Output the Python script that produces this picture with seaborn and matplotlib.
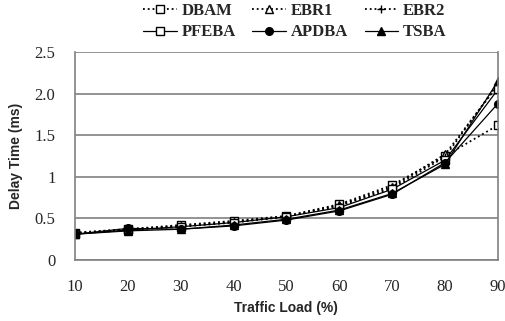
import matplotlib
matplotlib.use("Agg")
import matplotlib.pyplot as plt
import seaborn as sns

# traffic load (%) and delay time (ms) per scheme
load = [10, 20, 30, 40, 50, 60, 70, 80, 90]
dbam = [0.33, 0.37, 0.42, 0.47, 0.53, 0.67, 0.90, 1.25, 1.62]
ebr1 = [0.32, 0.37, 0.41, 0.46, 0.52, 0.66, 0.88, 1.27, 2.10]
ebr2 = [0.32, 0.36, 0.40, 0.45, 0.52, 0.65, 0.86, 1.24, 2.12]
pfeba = [0.31, 0.36, 0.40, 0.45, 0.52, 0.63, 0.85, 1.20, 2.05]
apdba = [0.31, 0.38, 0.37, 0.41, 0.48, 0.59, 0.79, 1.17, 1.88]
tsba = [0.31, 0.35, 0.37, 0.42, 0.49, 0.60, 0.80, 1.15, 2.15]

y_ticks = [0, 0.5, 1, 1.5, 2.0, 2.5]
y_labels = ["0", "0.5", "1", "1.5", "2.0", "2.5"]

sns.set_style("white")
fig = plt.figure(figsize=(5.06, 3.21), dpi=100)
ax = fig.add_axes([0.148, 0.19, 0.836, 0.648])

# name, data, linestyle, marker, face, width
series = [
    ("DBAM", dbam, ":", "s", "white", 1.3),
    ("EBR1", ebr1, ":", "^", "white", 1.3),
    ("EBR2", ebr2, ":", "+", "black", 1.3),
    ("PFEBA", pfeba, "-", "s", "white", 0.9),
    ("APDBA", apdba, "-", "o", "black", 0.9),
    ("TSBA", tsba, "-", "^", "black", 0.9),
]
for name, vals, ls, mk, fc, lw in series:
    sns.lineplot(x=load, y=vals, ax=ax, label=name, color="black",
                 linestyle=ls, linewidth=lw, marker=mk, markersize=5.5,
                 markerfacecolor=fc, markeredgecolor="black",
                 markeredgewidth=1.0)

ax.set_xlim(10, 90)
ax.set_ylim(0, 2.5)
ax.set_xticks(load)
ax.set_yticks(y_ticks)
ax.set_yticklabels(y_labels)
ax.yaxis.grid(True, color="#808080", linewidth=1.2)
for s in ["top", "right", "left", "bottom"]:
    ax.spines[s].set_visible(True)
    ax.spines[s].set_color("#808080")
    ax.spines[s].set_linewidth(1.2)
ax.spines["top"].set_visible(False)

ax.tick_params(axis="x", direction="in", length=6, color="#808080",
               pad=14, labelsize=12)
ax.tick_params(axis="y", length=0, pad=14, labelsize=12)
for lbl in ax.get_xticklabels() + ax.get_yticklabels():
    lbl.set_fontfamily("Liberation Serif")

ax.set_xlabel("Traffic Load (%)", fontsize=10, fontweight="bold",
              family="Liberation Sans", labelpad=4)
ax.set_ylabel("Delay Time (ms)", fontsize=10, fontweight="bold",
              family="Liberation Sans", labelpad=8)

h, l = ax.get_legend_handles_labels()
order = [0, 3, 1, 4, 2, 5]
ax.legend([h[i] for i in order], [l[i] for i in order], ncol=3,
          loc="lower center", bbox_to_anchor=(0.52, 1.0), frameon=False,
          prop={"family": "Liberation Serif", "size": 12, "weight": "bold"},
          handlelength=2.0, handletextpad=0.3, columnspacing=1.0,
          labelspacing=0.35, borderaxespad=0.3)

fig.savefig("out.png", dpi=100)
